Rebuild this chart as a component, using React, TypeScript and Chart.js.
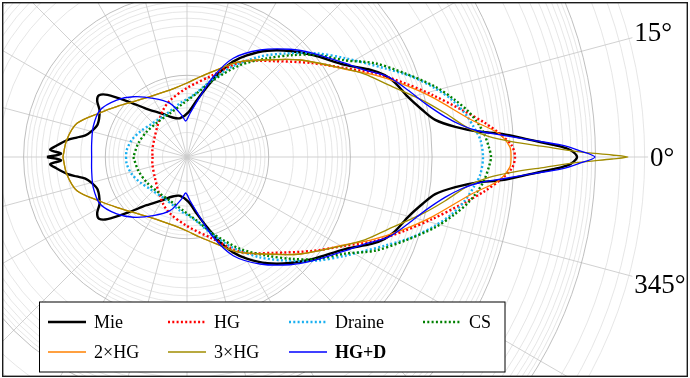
import { useEffect, useRef } from 'react';
import { Chart, registerables } from 'chart.js';

Chart.register(...registerables);

// ---- data: phase function values (sr^-1, 4π-normalised) read at scattering angles (deg), upper half; lower half mirrors it
const mieAngles = [0, 1, 1.5, 2, 2.8, 4.2, 5, 6.4, 8.5, 11.3, 15.2, 19.6, 22.5, 25.2, 30.2, 39, 45.8, 53, 59.5, 64.2, 68.8, 74, 80, 88, 100, 110, 120, 130, 137, 142, 145, 148, 152, 160, 165, 168, 170, 172, 175.2, 177, 178.5, 180];
const mieValues = [59.4, 50.1, 40.0, 28.5, 16.7, 7.38, 3.75, 2.02, 1.18, 0.867, 0.635, 0.507, 0.416, 0.314, 0.174, 0.0962, 0.0647, 0.0425, 0.0278, 0.0198, 0.013, 0.00784, 0.00513, 0.00355, 0.00304, 0.00327, 0.00409, 0.0059, 0.0101, 0.0172, 0.0207, 0.0198, 0.0163, 0.0146, 0.0163, 0.0187, 0.0235, 0.0303, 0.0407, 0.0475, 0.0348, 0.0518];

const hgAngles = [0, 2, 4, 6.5, 9.7, 14.2, 18.7, 24, 29.4, 36.7, 48, 60, 73, 90, 107, 117, 130, 148, 168, 180];
const hgValues = [10.35, 9.51, 7.18, 4.7, 2.6, 1.25, 0.653, 0.332, 0.164, 0.0836, 0.0379, 0.0222, 0.011, 0.007, 0.00527, 0.0044, 0.00351, 0.00292, 0.00271, 0.00264];

const draineAngles = [0, 3.3, 5.7, 8.9, 12.2, 15.5, 19.7, 24.1, 32, 38.6, 46.1, 54, 63.5, 72.5, 84, 97.4, 117.6, 139, 151.7, 163, 173.4, 180];
const draineValues = [4.2, 3.96, 3.44, 2.78, 2.07, 1.41, 0.832, 0.453, 0.191, 0.108, 0.0575, 0.033, 0.0172, 0.00953, 0.00579, 0.0046, 0.0038, 0.00397, 0.0045, 0.00511, 0.00553, 0.00558];

const csAngles = [0, 1.9, 4.5, 6.6, 9.2, 12, 15.8, 21, 26.5, 31.5, 38.2, 43.9, 51, 60, 71.1, 81.3, 94, 111.3, 129, 148, 164.3, 180];
const csValues = [5.26, 4.97, 4.44, 3.85, 3.08, 2.26, 1.44, 0.721, 0.372, 0.184, 0.105, 0.063, 0.0358, 0.0198, 0.0099, 0.00614, 0.00455, 0.00375, 0.00361, 0.00382, 0.00416, 0.00454];

const twoHgAngles = [0, 1.8, 4.4, 7.4, 13.8, 19, 24, 29, 40.6, 50.5, 62, 71, 81, 90, 100, 110, 122, 134, 144, 153, 163, 172, 180];
const twoHgValues = [9.25, 8.98, 6.59, 3.26, 1.21, 0.583, 0.305, 0.164, 0.0667, 0.0347, 0.0207, 0.0134, 0.0098, 0.00805, 0.0072, 0.00699, 0.0074, 0.00876, 0.0113, 0.0156, 0.0256, 0.0307, 0.033];

const threeHgAngles = [0, 0.27, 0.8, 1.65, 2.7, 3.9, 5.8, 9.6, 13.7, 19.7, 25, 30, 40.6, 50.5, 62, 71, 81, 90, 100, 110, 122, 134, 144, 153, 163, 172, 180];
const threeHgValues = [250, 159, 61.1, 24.1, 9.51, 4.97, 2.91, 1.61, 0.904, 0.416, 0.251, 0.151, 0.0667, 0.0347, 0.0207, 0.0134, 0.0098, 0.00805, 0.0072, 0.00699, 0.0074, 0.00876, 0.0113, 0.0156, 0.0256, 0.0307, 0.033];

const hgdAngles = [0, 1, 1.8, 2.8, 4, 5.1, 6.6, 8.9, 12.7, 16.8, 21.7, 26, 30.7, 39.4, 46.3, 55.7, 64.9, 71.9, 77.8, 86, 92, 97.2, 107.6, 119.9, 131.7, 141, 151.6, 162, 171.8, 180];
const hgdValues = [98.6, 61.1, 38.9, 16.7, 7.28, 3.8, 2.42, 1.57, 0.97, 0.671, 0.449, 0.265, 0.177, 0.1, 0.0667, 0.0385, 0.0216, 0.0108, 0.00569, 0.00344, 0.00276, 0.00329, 0.00489, 0.00674, 0.00972, 0.0128, 0.0162, 0.0161, 0.0151, 0.0147];

const seriesLabels = ['Mie', 'HG', 'Draine', 'CS', '2×HG', '3×HG', 'HG+D'];

// ---- axes
const radialOrigin = 1e-3; // value at the pole
const radialMajor = [1e-2, 1e-1, 1, 10, 100];
const radialMinorFactors = [2, 3, 4, 5, 6, 7, 8, 9];
const radialMinorDecades = [1e-3, 1e-2, 1e-1, 1, 10, 100];
const angleAxisMax = 440;
const angleTicks = [0, 15, 30, 45, 60, 75, 90, 105, 120, 135, 150, 165, 180, 195, 210, 225, 240, 255, 270, 285, 300, 315, 330, 345];

// ---- layout
const W = 690;
const H = 378;
const PAD = { left: 2, top: 2, right: 2, bottom: 1 };
const POLE = { x: 187, y: 157 };
const PX_PER_DECADE = 81.7;
const SERIF = "'Liberation Serif', 'Times New Roman', serif";

const decades = (v: number) => Math.log10(v) - Math.log10(radialOrigin);

function polarPoints(angles: number[], values: number[]) {
  const pt = (deg: number, v: number) => {
    const r = decades(v);
    const t = (deg * Math.PI) / 180;
    return { x: r * Math.cos(t), y: r * Math.sin(t) };
  };
  const pts: { x: number; y: number }[] = [];
  for (let i = angles.length - 1; i >= 1; i--) pts.push(pt(-angles[i], values[i]));
  for (let i = 0; i < angles.length; i++) pts.push(pt(angles[i], values[i]));
  return pts;
}

const seriesSpecs = [
  { angles: mieAngles, values: mieValues, color: '#000000', width: 2.4, dash: [] as number[] },
  { angles: hgAngles, values: hgValues, color: '#ff0000', width: 2.4, dash: [2, 2.3] },
  { angles: draineAngles, values: draineValues, color: '#19b0f0', width: 2.4, dash: [2, 2.3] },
  { angles: csAngles, values: csValues, color: '#008000', width: 2.4, dash: [2, 2.3] },
  { angles: twoHgAngles, values: twoHgValues, color: '#ff8000', width: 1.3, dash: [] as number[] },
  { angles: threeHgAngles, values: threeHgValues, color: '#a08c00', width: 1.3, dash: [] as number[] },
  { angles: hgdAngles, values: hgdValues, color: '#0000ff', width: 1.3, dash: [] as number[] },
];

const legendCols = [48, 168, 289, 423];
const legendRows = [322, 352];
const legendBox = { x: 39.5, y: 302, w: 465.5, h: 70 };

const polarPlugin = {
  id: 'polarDecor',
  beforeDatasetsDraw(chart: any) {
    const { ctx, chartArea: a, scales } = chart;
    const cx = scales.x.getPixelForValue(0);
    const cy = scales.y.getPixelForValue(0);
    const unit = scales.x.getPixelForValue(1) - cx;
    ctx.save();
    ctx.beginPath();
    ctx.rect(a.left, a.top, a.right - a.left, a.bottom - a.top);
    ctx.clip();
    // minor circles
    ctx.strokeStyle = '#e0e0e0';
    ctx.lineWidth = 0.8;
    radialMinorDecades.forEach((d) => {
      radialMinorFactors.forEach((f) => {
        const v = d * f;
        if (v > angleAxisMax) return;
        ctx.beginPath();
        ctx.arc(cx, cy, decades(v) * unit, 0, Math.PI * 2);
        ctx.stroke();
      });
    });
    // spokes
    const R = decades(angleAxisMax) * unit;
    ctx.strokeStyle = '#cccccc';
    ctx.lineWidth = 0.9;
    angleTicks.forEach((deg) => {
      const t = (deg * Math.PI) / 180;
      ctx.beginPath();
      ctx.moveTo(cx, cy);
      ctx.lineTo(cx + R * Math.cos(t), cy - R * Math.sin(t));
      ctx.stroke();
    });
    // major circles
    ctx.strokeStyle = '#b8b8b8';
    ctx.lineWidth = 0.9;
    radialMajor.forEach((v) => {
      ctx.beginPath();
      ctx.arc(cx, cy, decades(v) * unit, 0, Math.PI * 2);
      ctx.stroke();
    });
    ctx.restore();
  },
  afterDraw(chart: any) {
    const { ctx, chartArea: a, scales } = chart;
    const cx = scales.x.getPixelForValue(0);
    const cy = scales.y.getPixelForValue(0);
    const unit = scales.x.getPixelForValue(1) - cx;
    // angle labels
    ctx.save();
    ctx.beginPath();
    ctx.rect(a.left, a.top, a.right - a.left, a.bottom - a.top);
    ctx.clip();
    const size = 27;
    ctx.font = `${size}px ${SERIF}`;
    ctx.fillStyle = '#000';
    ctx.textAlign = 'center';
    ctx.textBaseline = 'alphabetic';
    const R = decades(angleAxisMax) * unit + 1;
    angleTicks.forEach((deg) => {
      const text = `${deg}°`;
      const t = (deg * Math.PI) / 180;
      const c = Math.cos(t);
      const s = Math.sin(t);
      const px = cx + R * c;
      const py = cy - R * s;
      const w = ctx.measureText(text).width;
      const hw = w / 2 + 1;
      const hh = size * 0.36 + 1;
      const tx = Math.abs(c) < 1e-9 ? Infinity : hw / Math.abs(c);
      const ty = Math.abs(s) < 1e-9 ? Infinity : hh / Math.abs(s);
      const k = Math.min(tx, ty);
      const ncx = px + k * c;
      const ncy = py - k * s;
      ctx.fillText(text, ncx, ncy + size * 0.33);
    });
    ctx.restore();

    // frame
    ctx.save();
    ctx.strokeStyle = '#1a1a1a';
    ctx.lineWidth = 1.4;
    ctx.strokeRect(a.left + 0.7, a.top + 0.7, a.right - a.left - 1.4, a.bottom - a.top - 1.4);

    // legend
    ctx.fillStyle = '#ffffff';
    ctx.fillRect(legendBox.x, legendBox.y, legendBox.w, legendBox.h);
    ctx.strokeStyle = '#000';
    ctx.lineWidth = 1;
    ctx.strokeRect(legendBox.x, legendBox.y, legendBox.w, legendBox.h);
    chart.data.datasets.forEach((ds: any, i: number) => {
      const col = i % 4;
      const row = Math.floor(i / 4);
      const x0 = legendCols[col];
      const y0 = legendRows[row];
      ctx.save();
      ctx.strokeStyle = ds.borderColor;
      ctx.lineWidth = ds.borderWidth;
      ctx.setLineDash(ds.borderDash || []);
      ctx.beginPath();
      ctx.moveTo(x0, y0);
      ctx.lineTo(x0 + 38, y0);
      ctx.stroke();
      ctx.restore();
      ctx.fillStyle = '#000';
      ctx.textAlign = 'left';
      ctx.textBaseline = 'alphabetic';
      ctx.font = `${ds.labelBold ? 'bold ' : ''}18px ${SERIF}`;
      ctx.fillText(ds.label, x0 + 46, y0 + 6);
    });
    ctx.restore();
  },
};

export default function App() {
  const canvasRef = useRef<HTMLCanvasElement | null>(null);

  useEffect(() => {
    document.body.style.margin = '0';
    const canvas = canvasRef.current;
    if (!canvas) return;
    const xMin = -(POLE.x - PAD.left) / PX_PER_DECADE;
    const xMax = (W - PAD.right - POLE.x) / PX_PER_DECADE;
    const yMax = (POLE.y - PAD.top) / PX_PER_DECADE;
    const yMin = -(H - PAD.bottom - POLE.y) / PX_PER_DECADE;
    const n = seriesSpecs.length;
    const chart = new Chart(canvas, {
      type: 'scatter',
      data: {
        datasets: seriesSpecs.map((s, i) => ({
          label: seriesLabels[i],
          data: polarPoints(s.angles, s.values),
          showLine: true,
          borderColor: s.color,
          backgroundColor: s.color,
          borderWidth: s.width,
          borderDash: s.dash,
          borderCapStyle: 'butt',
          pointRadius: 0,
          tension: 0.3,
          fill: false,
          order: n - i,
          labelBold: seriesLabels[i] === 'HG+D',
        })) as any,
      },
      options: {
        animation: false,
        responsive: false,
        devicePixelRatio: 1,
        layout: { padding: PAD },
        scales: {
          x: { type: 'linear', min: xMin, max: xMax, display: false },
          y: { type: 'linear', min: yMin, max: yMax, display: false },
        },
        plugins: { legend: { display: false }, tooltip: { enabled: false } },
        events: [],
      },
      plugins: [polarPlugin],
    });
    return () => chart.destroy();
  }, []);

  return (
    <div style={{ position: 'absolute', left: 0, top: 0, width: W, height: H, background: '#fff' }}>
      <canvas ref={canvasRef} width={W} height={H} style={{ width: W, height: H, display: 'block' }} />
    </div>
  );
}
